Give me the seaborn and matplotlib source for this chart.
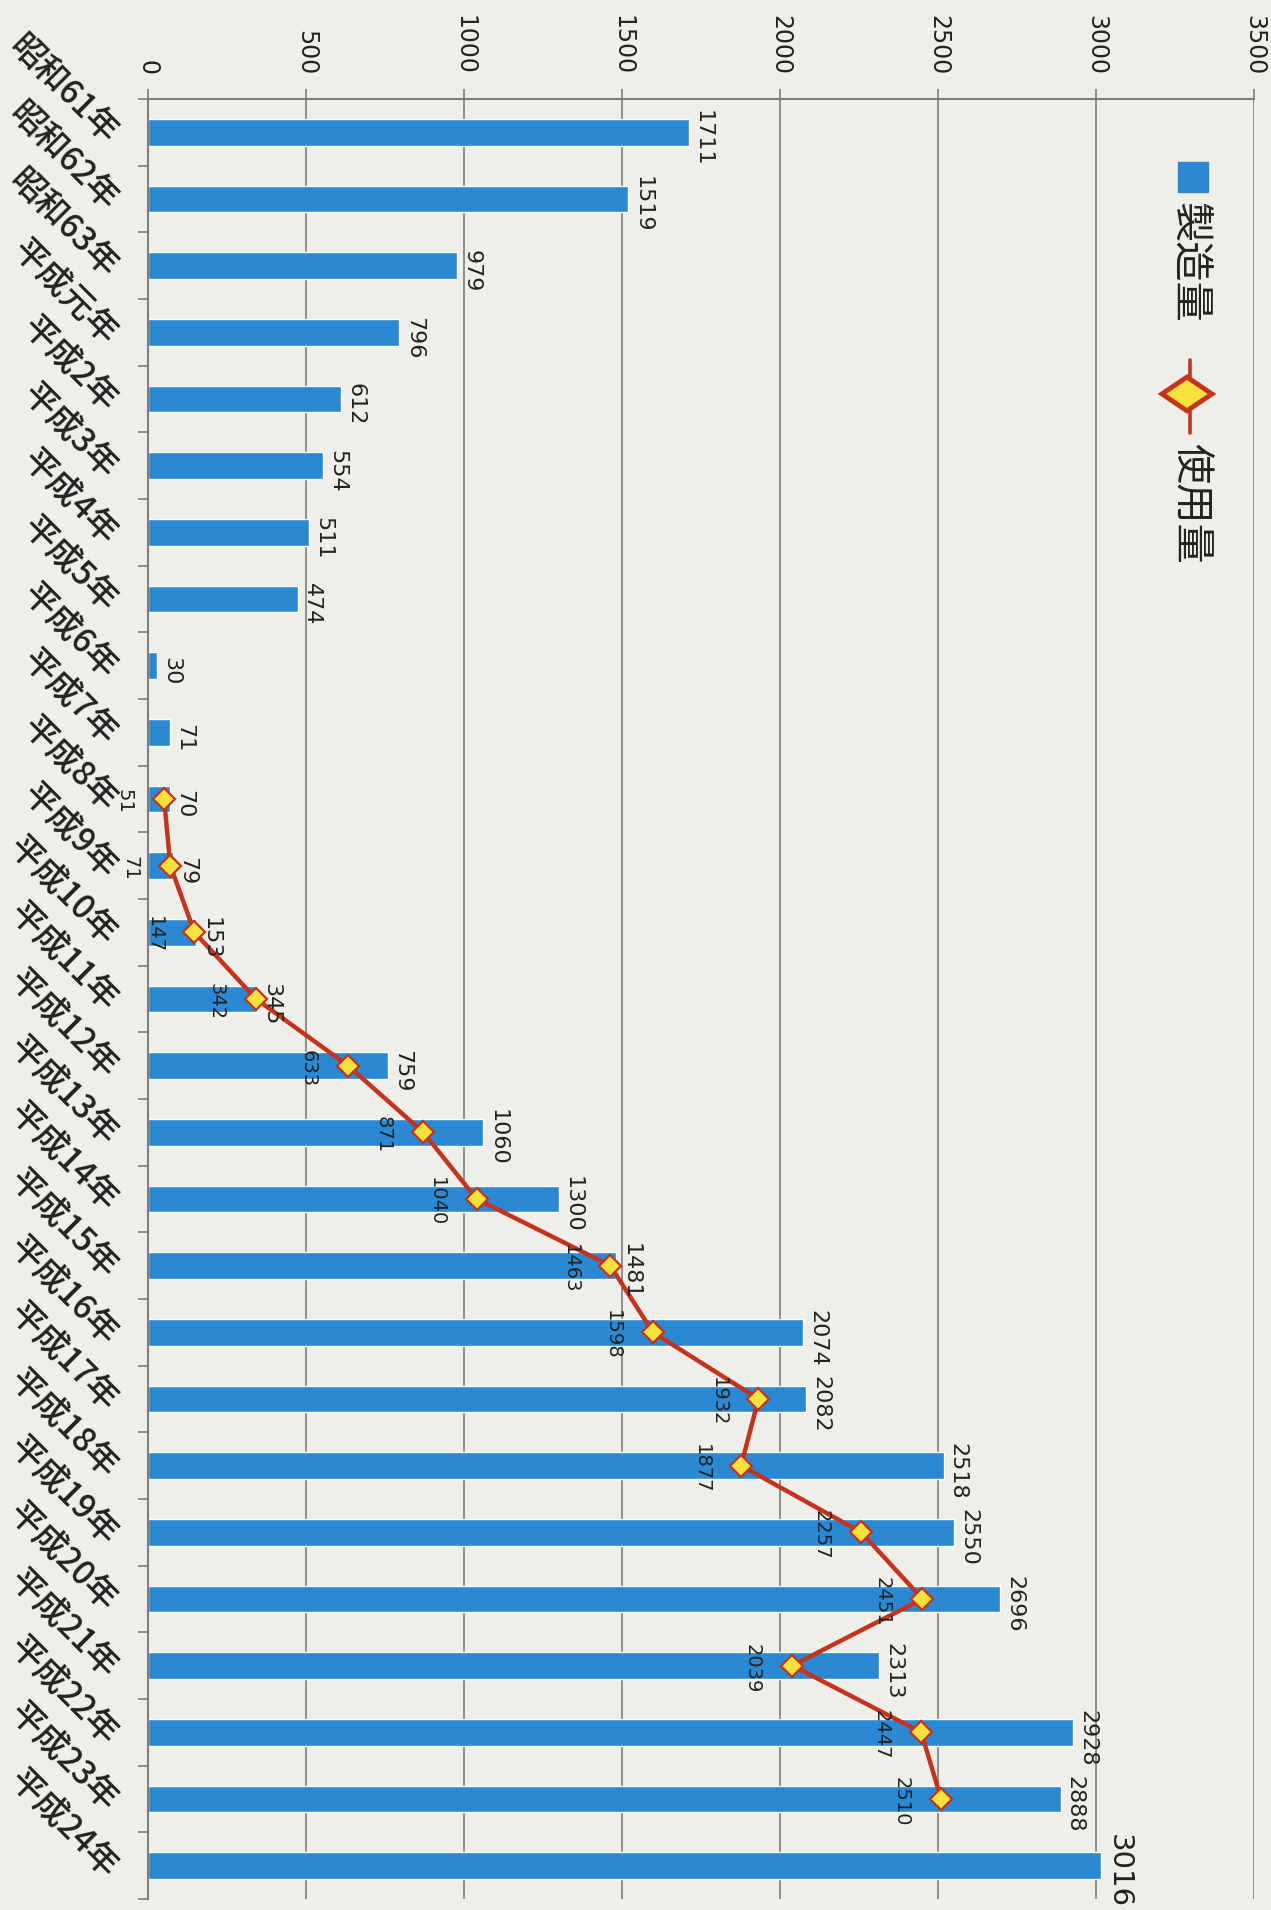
import numpy as np
import pandas as pd
import seaborn as sns
import matplotlib.pyplot as plt
from matplotlib.patches import Rectangle, Polygon
from matplotlib.lines import Line2D
from matplotlib.ticker import MultipleLocator, FixedLocator
from matplotlib.transforms import ScaledTranslation

years = ['昭和61年', '昭和62年', '昭和63年', '平成元年', '平成2年', '平成3年', '平成4年',
         '平成5年', '平成6年', '平成7年', '平成8年', '平成9年', '平成10年', '平成11年',
         '平成12年', '平成13年', '平成14年', '平成15年', '平成16年', '平成17年', '平成18年',
         '平成19年', '平成20年', '平成21年', '平成22年', '平成23年', '平成24年']
production = [1711, 1519, 979, 796, 612, 554, 511, 474, 30, 71, 70, 79, 153, 345, 759,
              1060, 1300, 1481, 2074, 2082, 2518, 2550, 2696, 2313, 2928, 2888, 3016]

usage_years = ['平成8年', '平成9年', '平成10年', '平成11年', '平成12年', '平成13年',
               '平成14年', '平成15年', '平成16年', '平成17年', '平成18年', '平成19年',
               '平成20年', '平成21年', '平成22年', '平成23年']
usage = [51, 71, 147, 342, 633, 871, 1040, 1463, 1598, 1932, 1877, 2257, 2451, 2039, 2447, 2510]

paper = '#efeee9'
blue = '#2b88d2'
red = '#c5321d'
yellow = '#f6e23c'
gray = '#7d7d7d'
ink = '#222222'

sns.set_theme(style='white')
plt.rcParams['font.family'] = ['DejaVu Sans', 'Noto Sans CJK JP']
cjk = ['Noto Sans CJK JP', 'DejaVu Sans']

fig = plt.figure(figsize=(12.71, 19.10), dpi=100, facecolor=paper)
ax = fig.add_axes([0.1164, 0.0058, 0.8702, 0.9424])
ax.set_facecolor(paper)
ax.set_axisbelow(True)

df = pd.DataFrame({'年': years, '製造量': production})
sns.barplot(data=df, x='製造量', y='年', orient='h', color=blue, saturation=1,
            width=0.4, ax=ax, zorder=2)

pos = [years.index(y) for y in usage_years]
ax.plot(usage, pos, color=red, lw=3.2, marker='D', ms=11, mfc=yellow, mec=red,
        mew=1.6, zorder=4)

# value labels (text reads top->bottom like the scanned page)
top = max(production)
for i, v in enumerate(production):
    ax.annotate(str(v), xy=(v, i), xytext=(3, -4), textcoords='offset points',
                rotation=-90, rotation_mode='anchor', ha='center', va='bottom',
                fontsize=21 if v == top else 16, color=ink, zorder=5)
for p, v in zip(pos, usage):
    ax.annotate(str(v), xy=(v, p), xytext=(-22, -2), textcoords='offset points',
                rotation=-90, rotation_mode='anchor', ha='center', va='top',
                fontsize=14, color=ink, zorder=5)

ax.set_xlim(0, 3500)
ax.set_ylim(26.5, -0.5)
ax.set_xlabel('')
ax.set_ylabel('')
ax.xaxis.set_major_locator(MultipleLocator(500))
ax.xaxis.tick_top()
ax.tick_params(axis='x', which='major', top=True, bottom=False, direction='out',
               length=7, width=1.2, color=gray, pad=10, labelsize=17, labelcolor=ink)
plt.setp(ax.get_xticklabels(), rotation=-90, rotation_mode='anchor', ha='right', va='center')

ax.yaxis.set_minor_locator(FixedLocator(np.arange(-0.5, 27, 1)))
ax.tick_params(axis='y', which='major', left=True, length=0, pad=26, labelsize=24,
               labelcolor=ink)
ax.tick_params(axis='y', which='minor', left=True, direction='out', length=7,
               width=1.2, color=gray)
shift = ScaledTranslation(0, -5 / 72, fig.dpi_scale_trans)
for lab in ax.get_yticklabels():
    lab.set_rotation(-45)
    lab.set_rotation_mode('anchor')
    lab.set_ha('right')
    lab.set_va('center')
    lab.set_family(cjk)
    lab.set_fontweight('medium')
    lab.set_transform(lab.get_transform() + shift)

ax.grid(axis='x', color=gray, lw=1.2)
ax.grid(axis='y', visible=False)
for s in ['right', 'bottom']:
    ax.spines[s].set_visible(False)
for s in ['top', 'left']:
    ax.spines[s].set_color(gray)
    ax.spines[s].set_linewidth(1.5)

# legend, drawn rotated like the page
ax.add_patch(Rectangle((0.9313, 0.9483), 0.0271, 0.0167, transform=ax.transAxes,
                       color=blue, clip_on=False, zorder=6))
ax.text(0.9421, 0.9428, '製造量', transform=ax.transAxes, rotation=-90,
        rotation_mode='anchor', ha='left', va='center', fontsize=29, color=ink,
        family=cjk, zorder=6)
ax.add_line(Line2D([0.9421, 0.9421], [0.855, 0.8144], transform=ax.transAxes,
                   color=red, lw=2.6, zorder=6))
cx, cy = 0.9394, 0.8361
ax.add_patch(Polygon([(cx - 0.0226, cy), (cx, cy + 0.0094), (cx + 0.0226, cy),
                      (cx, cy - 0.0094)], closed=True, transform=ax.transAxes,
                     facecolor=yellow, edgecolor=red, lw=3.5, zorder=7))
ax.text(0.9421, 0.8089, '使用量', transform=ax.transAxes, rotation=-90,
        rotation_mode='anchor', ha='left', va='center', fontsize=29, color=ink,
        family=cjk, zorder=6)

fig.savefig('out.png', dpi=100, facecolor=paper)
